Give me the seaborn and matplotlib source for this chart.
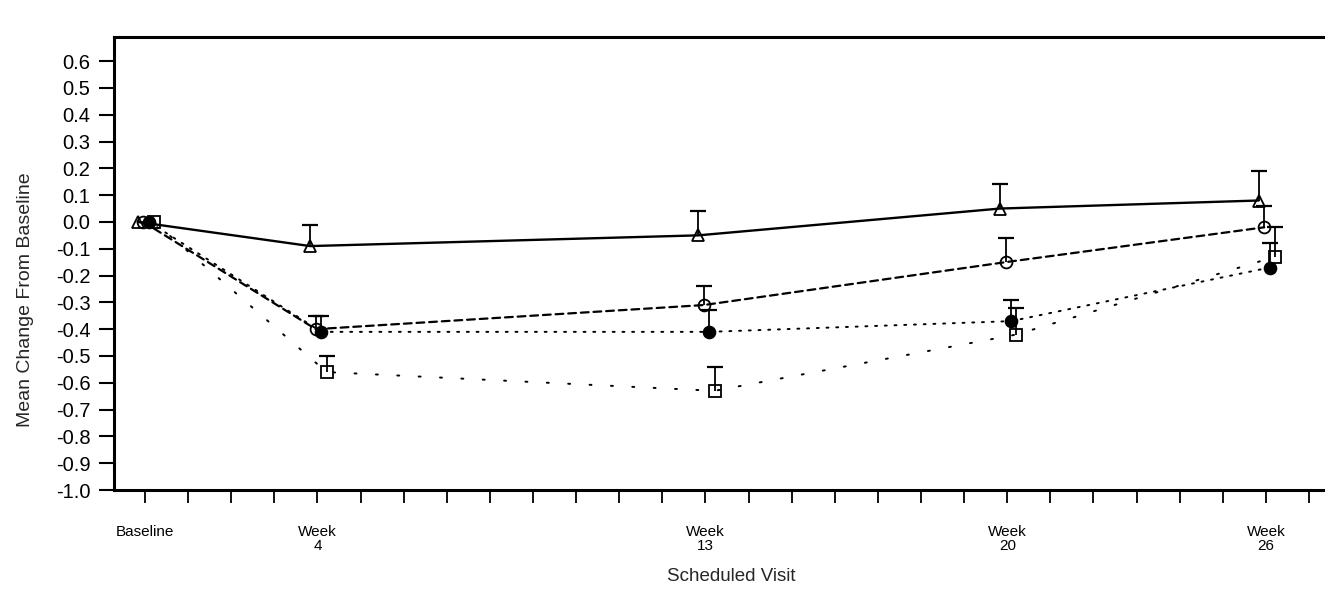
import numpy as np
import pandas as pd
import matplotlib
matplotlib.use("Agg")
import matplotlib.pyplot as plt
import seaborn as sns

# ---------------- data ----------------
visit_weeks = [0, 4, 13, 20, 26]
visit_labels = ["Baseline", "Week\n4", "Week\n13", "Week\n20", "Week\n26"]

group_names = ["Group 1", "Group 2", "Group 3", "Group 4"]
mean_triangle = [0.00, -0.09, -0.05, 0.05, 0.08]
se_triangle = [0.00, 0.08, 0.09, 0.09, 0.11]
mean_open_circle = [0.00, -0.40, -0.31, -0.15, -0.02]
se_open_circle = [0.00, 0.05, 0.07, 0.09, 0.08]
mean_filled_circle = [0.00, -0.41, -0.41, -0.37, -0.17]
se_filled_circle = [0.00, 0.06, 0.08, 0.08, 0.09]
mean_square = [0.00, -0.56, -0.63, -0.42, -0.13]
se_square = [0.00, 0.06, 0.09, 0.10, 0.11]

y_tick_values = [0.6, 0.5, 0.4, 0.3, 0.2, 0.1, 0.0, -0.1, -0.2, -0.3,
                 -0.4, -0.5, -0.6, -0.7, -0.8, -0.9, -1.0]
y_tick_labels = ["0.6", "0.5", "0.4", "0.3", "0.2", "0.1", "0.0", "-0.1", "-0.2",
                 "-0.3", "-0.4", "-0.5", "-0.6", "-0.7", "-0.8", "-0.9", "-1.0"]
minor_week_ticks = list(range(0, 28))

# ---------------- style ----------------
sns.set_theme(style="ticks")
plt.rcParams["font.family"] = ["Liberation Sans", "DejaVu Sans"]
plt.rcParams["axes.unicode_minus"] = False

rows = []
for g, m, s in zip(group_names,
                   [mean_triangle, mean_open_circle, mean_filled_circle, mean_square],
                   [se_triangle, se_open_circle, se_filled_circle, se_square]):
    for w, mv, sv in zip(visit_weeks, m, s):
        rows.append({"group": g, "week": w, "mean": mv, "se": sv})
df = pd.DataFrame(rows)

styles = {
    "Group 1": dict(offset=-0.17, marker="^", mfc="none", ls="-", lw=1.7),
    "Group 2": dict(offset=-0.04, marker="o", mfc="none", ls=(0, (3.5, 2.2)), lw=1.6),
    "Group 3": dict(offset=0.09, marker="o", mfc="black", ls=(0, (1, 4)), lw=1.4),
    "Group 4": dict(offset=0.21, marker="s", mfc="none", ls=(0, (1, 10)), lw=1.4),
}

W, H = 1325, 593
fig = plt.figure(figsize=(W / 100, H / 100), dpi=100)
left_px, top_px, bottom_px = 114, 37, 490
ax = fig.add_axes([left_px / W, 1 - bottom_px / H, 1 - left_px / W, (bottom_px - top_px) / H])

for g in group_names:
    st = styles[g]
    sub = df[df["group"] == g].copy()
    sub["xpos"] = sub["week"] + st["offset"]
    sns.lineplot(data=sub, x="xpos", y="mean", ax=ax, color="black",
                 marker=st["marker"], markersize=8.5, markerfacecolor=st["mfc"],
                 markeredgecolor="black", markeredgewidth=1.3,
                 linestyle=st["ls"], linewidth=st["lw"], dash_capstyle="round",
                 errorbar=None, legend=False, sort=True)
    eb = sub[sub["se"] > 0]
    cont = ax.errorbar(eb["xpos"], eb["mean"], yerr=[np.zeros(len(eb)), eb["se"].values],
                       fmt="none", ecolor="black", elinewidth=1.3, capsize=5.5, capthick=1.6)
    cont[1][0].set_visible(False)  # hide the lower cap: only mean + SE is shown

ax.set_xlim(-0.72, 27.37)
ax.set_ylim(-1.0, 0.69)

ax.set_xticks(minor_week_ticks)
xl = []
for w in minor_week_ticks:
    xl.append(visit_labels[visit_weeks.index(w)] if w in visit_weeks else "")
ax.set_xticklabels(xl, fontsize=11, linespacing=1.05)
ax.set_yticks(y_tick_values)
ax.set_yticklabels(y_tick_labels, fontsize=14.5)

ax.tick_params(axis="x", direction="out", length=9, width=1.3, pad=16, colors="black")
ax.tick_params(axis="y", direction="out", length=11, width=1.5, pad=6, colors="black")

for side in ["left", "bottom", "top"]:
    ax.spines[side].set_linewidth(2.2)
    ax.spines[side].set_color("black")
ax.spines["right"].set_visible(False)

ax.set_xlabel("Scheduled Visit", fontsize=13.5)
ax.set_ylabel("Mean Change From Baseline", fontsize=14)
ax.xaxis.set_label_coords(0.51, -0.172)
ax.yaxis.set_label_coords(-0.066, 0.42)

fig.savefig("out.png", dpi=100)
